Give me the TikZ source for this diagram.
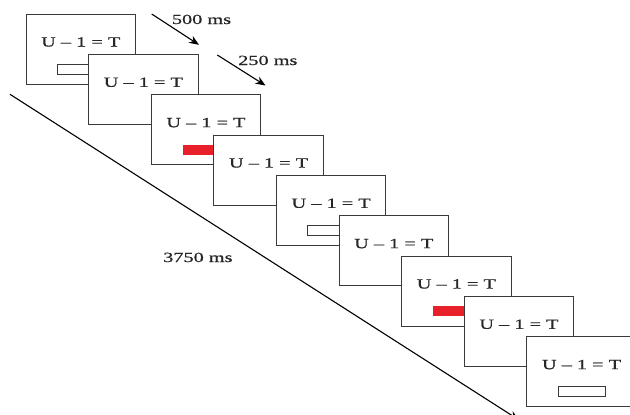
\documentclass[tikz,border=0pt]{standalone}
\usepackage{fontspec}
\setmainfont{Liberation Serif}[FakeBold=0.6]
\usepackage{graphicx}
\usetikzlibrary{arrows.meta}
\definecolor{frame}{HTML}{3A3A3A}
\definecolor{cue}{HTML}{E8202A}
\newcommand{\widetext}[1]{\scalebox{1.45}[1]{#1}}
\tikzset{
  screen/.style={draw=frame, line width=0.9pt, fill=white, rectangle,
    minimum width=109.5pt, minimum height=70pt, inner sep=0pt, outer sep=0pt},
  equation/.style={anchor=base, inner sep=0pt, text=black!85, font=\fontsize{14}{16}\selectfont},
  emptybar/.style={draw=frame, line width=0.9pt, fill=white, rectangle,
    minimum width=47pt, minimum height=10pt, inner sep=0pt, outer sep=0pt, anchor=north west},
  redbar/.style={fill=cue, rectangle, minimum width=47pt, minimum height=10pt,
    inner sep=0pt, outer sep=0pt, anchor=north west},
  timing/.style={anchor=base west, inner sep=0pt, text=black!85, font=\fontsize{14}{16}\selectfont},
  timearrow/.style={line width=1.1pt, draw=black, -{Stealth[length=10pt,width=8pt]}},
}
\begin{document}
\begin{tikzpicture}[x=1pt,y=-1pt]
  \useasboundingbox (0,0) rectangle (630,415);
  \clip (0,0) rectangle (630,415);

  % timing arrows for the first two frames
  \coordinate (a1s) at (151.7,14);
  \coordinate (a1e) at (199,44.8);
  \coordinate (a2s) at (217.3,55);
  \coordinate (a2e) at (265.5,85.5);
  \draw[timearrow] (a1s) -- (a1e);
  \draw[timearrow] (a2s) -- (a2e);
  \node[timing] (l500) at (171.7,24) {\widetext{500 ms}};
  \node[timing] (l250) at (238,65) {\widetext{250 ms}};

  % overall trial duration
  \coordinate (ts) at (10,94.3);
  \coordinate (te) at (519,420);
  \draw[timearrow] (ts) -- (te);
  \node[timing] (l3750) at (163,262) {\widetext{3750 ms}};

  % the nine successive screens, each one in front of the previous
  \foreach \i in {0,...,8} {
    \pgfmathsetmacro{\cx}{26+62.6*\i+54.75}
    \pgfmathsetmacro{\cy}{14+40.33*\i+35}
    \node[screen] (b\i) at (\cx,\cy) {};
    \node[equation] (t\i) at ([yshift=-32.5pt]b\i.north) {\widetext{U – 1 = T}};
    \ifnum\i=0 \node[emptybar] (r\i) at ([xshift=31.5pt,yshift=-50pt]b\i.north west) {}; \fi
    \ifnum\i=2 \node[redbar]   (r\i) at ([xshift=31.5pt,yshift=-50pt]b\i.north west) {}; \fi
    \ifnum\i=4 \node[emptybar] (r\i) at ([xshift=31.5pt,yshift=-50pt]b\i.north west) {}; \fi
    \ifnum\i=6 \node[redbar]   (r\i) at ([xshift=31.5pt,yshift=-50pt]b\i.north west) {}; \fi
    \ifnum\i=8 \node[emptybar] (r\i) at ([xshift=31.5pt,yshift=-50pt]b\i.north west) {}; \fi
  }
\end{tikzpicture}
\end{document}
